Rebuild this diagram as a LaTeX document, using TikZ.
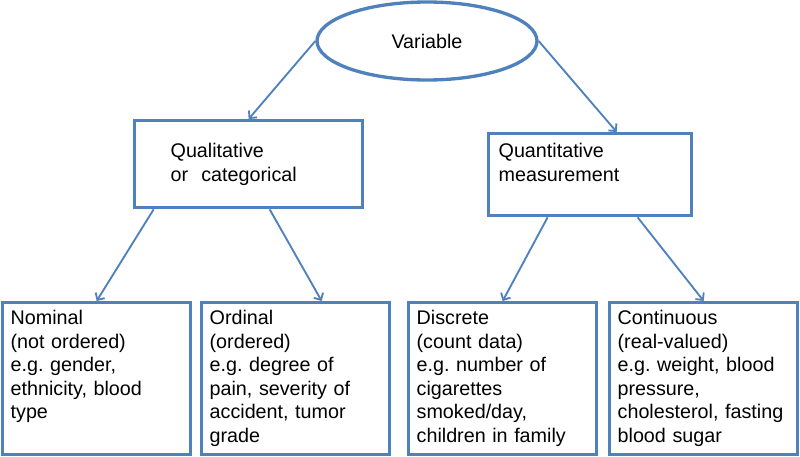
\documentclass[tikz,border=0pt]{standalone}
\usepackage{fontspec}
\setmainfont{Liberation Sans}
\frenchspacing
\usetikzlibrary{shapes,arrows,arrows.meta,positioning}
\definecolor{LineBlue}{RGB}{79,129,189}
\tikzstyle{Root} = [draw=LineBlue, line width=2.5pt, ellipse, minimum width=165pt, minimum height=58.5pt, inner sep=0pt]
\tikzstyle{Block} = [draw=LineBlue, line width=2.5pt, rectangle, align=left, anchor=north west, inner ysep=4pt]
\tikzstyle{Leaf} = [Block, text width=129pt, inner xsep=6pt, text height=12.5pt, text depth=93.5pt]
\tikzstyle{Link} = [draw=LineBlue, line width=1.4pt, -{Straight Barb[length=4pt,width=8pt]}]

\begin{document}
\begin{tikzpicture}[x=0.75pt, y=-0.75pt, font=\fontsize{14.8pt}{17.6pt}\selectfont]
    \useasboundingbox (0,0) rectangle (800,457);
    \node[Root]  (variable)     at (427,41)  {Variable};
    \node[Block, text width=117pt, inner xsep=27pt, text height=23.75pt, text depth=33.5pt]
                 (qualitative)  at (133,119) {Qualitative\\or\ \ categorical};
    \node[Block, text width=137.25pt, inner xsep=7.5pt, text height=14pt, text depth=39.5pt]
                 (quantitative) at (487,132) {Quantitative\\measurement};
    \node[Leaf]  (nominal)      at (1,301)   {Nominal\\(not ordered)\\e.g. gender,\\ethnicity, blood\\type};
    \node[Leaf]  (ordinal)      at (200,301) {Ordinal\\(ordered)\\e.g. degree of\\pain, severity of\\accident, tumor\\grade};
    \node[Leaf]  (discrete)     at (407,301) {Discrete\\(count data)\\e.g. number of\\cigarettes\\smoked/day,\\children in family};
    \node[Leaf]  (continuous)   at (608,301) {Continuous\\(real-valued)\\e.g. weight, blood\\pressure,\\cholesterol, fasting\\blood sugar};
    \draw[Link] (variable.west) -- (qualitative.north);
    \draw[Link] (variable.east) -- ([xshift=19.9pt]quantitative.north);
    \draw[Link] ([xshift=-71.25pt]qualitative.south) -- (nominal.north);
    \draw[Link] ([xshift=15.75pt]qualitative.south)  -- ([xshift=19.5pt]ordinal.north);
    \draw[Link] ([xshift=-31.9pt]quantitative.south) -- (discrete.north);
    \draw[Link] ([xshift=35.6pt]quantitative.south)  -- (continuous.north);
\end{tikzpicture}
\end{document}
